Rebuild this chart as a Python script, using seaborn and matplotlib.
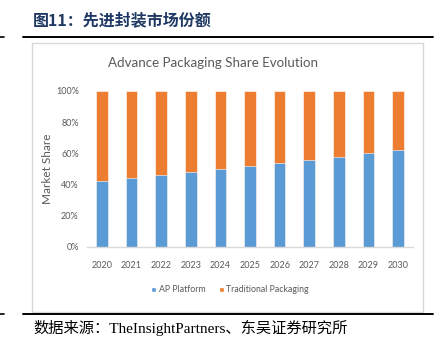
import matplotlib
matplotlib.use("Agg")
import matplotlib.pyplot as plt
import seaborn as sns
import pandas as pd
from matplotlib.patches import Rectangle, Patch
from matplotlib.lines import Line2D

years = ["2020", "2021", "2022", "2023", "2024", "2025", "2026", "2027", "2028", "2029", "2030"]
ap_platform = [42, 44, 46, 48, 50, 52, 54, 56, 58, 60, 62]
traditional = [58, 56, 54, 52, 50, 48, 46, 44, 42, 40, 38]
y_ticks = [0, 20, 40, 60, 80, 100]
y_tick_labels = ["0%", "20%", "40%", "60%", "80%", "100%"]

fig_title = "图11：先进封装市场份额"
chart_title = "Advance Packaging Share Evolution"
source = "数据来源：TheInsightPartners、东吴证券研究所"

blue = "#5B9BD5"
orange = "#ED7D31"

sns.set_theme(style="white")
plt.rcParams['font.family'] = ['Lato', 'DejaVu Sans']

df = pd.DataFrame({"year": years, "ap": ap_platform, "trad": traditional})
df["total"] = df["ap"] + df["trad"]

fig = plt.figure(figsize=(4.44, 3.41), dpi=100)
W, H = 444, 341

def fx(px):
    return px / W

def fy(py):
    return 1 - py / H

# chart box
fig.patches.append(Rectangle((fx(32), fy(312)), fx(423) - fx(32), fy(43) - fy(312),
                             transform=fig.transFigure, fill=False,
                             edgecolor="#D9D9D9", linewidth=1.0))

# report lines
for y in (37, 314):
    fig.add_artist(Line2D([fx(23), fx(433)], [fy(y), fy(y)], transform=fig.transFigure,
                          color="black", linewidth=1.4))
    fig.add_artist(Line2D([fx(0), fx(4)], [fy(y), fy(y)], transform=fig.transFigure,
                          color="black", linewidth=1.2))

fig.text(fx(33), fy(20), fig_title, fontsize=11.5, fontweight="bold", color="#1F3864",
         family=['Noto Sans CJK SC', 'DejaVu Sans'], va="center", ha="left")
fig.text(fx(33), fy(328), source, fontsize=11, color="black",
         family=['Liberation Serif', 'Noto Sans CJK SC'], va="center", ha="left")

ax = fig.add_axes([fx(87), fy(247), fx(413) - fx(87), fy(91) - fy(247)])

sns.barplot(data=df, x="year", y="total", color=orange, width=0.39, ax=ax,
            saturation=1, edgecolor="white", linewidth=0.4)
sns.barplot(data=df, x="year", y="ap", color=blue, width=0.39, ax=ax,
            saturation=1, edgecolor="white", linewidth=0.4)

ax.set_xlim(-0.5, len(years) - 0.5)
ax.set_ylim(0, 100)
ax.set_yticks(y_ticks)
ax.set_yticklabels(y_tick_labels)
ax.set_xlabel("")
ax.set_ylabel("Market Share", fontsize=8.5, color="#595959", labelpad=2)
ax.tick_params(axis="both", labelsize=6.5, colors="#595959", length=0)
ax.tick_params(axis="x", pad=10)
ax.tick_params(axis="y", pad=6)
for s in ("top", "right", "left"):
    ax.spines[s].set_visible(False)
ax.spines["bottom"].set_color("#D9D9D9")
ax.spines["bottom"].set_linewidth(1.0)
ax.grid(False)

fig.text(fx(213), fy(63), chart_title, fontsize=9.6, color="#595959", ha="center", va="center")

handles = [Patch(facecolor=blue, label="AP Platform"),
           Patch(facecolor=orange, label="Traditional Packaging")]
fig.legend(handles=handles, loc="center", bbox_to_anchor=(fx(230), fy(290)), ncol=2,
           frameon=False, fontsize=6.3, handlelength=0.6, handleheight=0.6,
           handletextpad=0.3, columnspacing=1.5, labelcolor="#595959")

fig.savefig("out.png", dpi=100)
